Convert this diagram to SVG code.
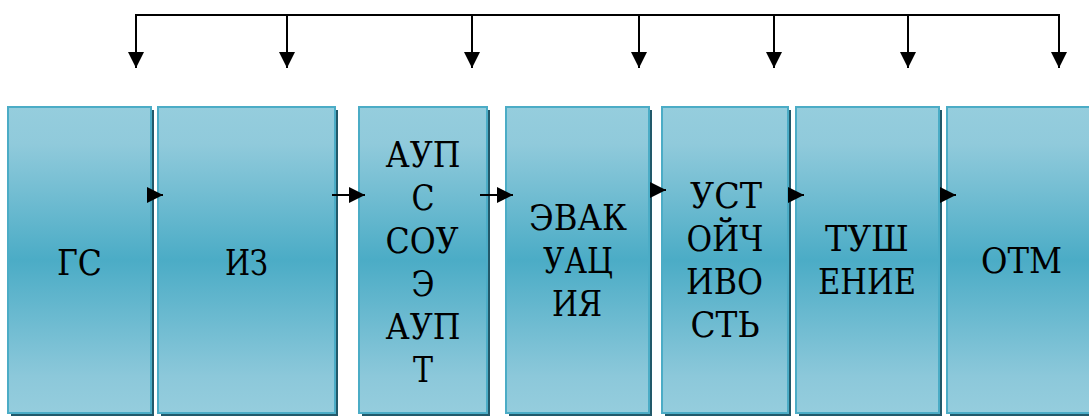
<svg xmlns="http://www.w3.org/2000/svg" width="1089" height="416" viewBox="0 0 1089 416">
<style>
.box{fill:url(#g);stroke:#4BACC6;stroke-width:2}
.sh{fill:#22596A}
.t{font-family:"DejaVu Serif","Liberation Serif",serif;font-size:36px;fill:#000;text-anchor:middle}
.c{fill:none;stroke:#000;stroke-width:2}
</style>
<defs>
<linearGradient id="g" x1="0" y1="0" x2="0" y2="1">
<stop offset="0" stop-color="#95CDDD"/>
<stop offset="0.12" stop-color="#90CADB"/>
<stop offset="0.5" stop-color="#4BACC6"/>
<stop offset="0.88" stop-color="#8CC8DA"/>
<stop offset="1" stop-color="#95CDDD"/>
</linearGradient>
<marker id="ah" markerUnits="userSpaceOnUse" markerWidth="16" markerHeight="16" viewBox="0 0 16 16" refX="16" refY="8" orient="auto">
<path d="M0,0 L16,8 L0,16 Z" fill="#000"/>
</marker>
</defs>
<g id="n1"><rect class="sh" x="11" y="110" width="143" height="306"/><rect class="box" x="8" y="107" width="143" height="306"/><text class="t" x="79.5" y="275" textLength="45" lengthAdjust="spacingAndGlyphs">ГС</text></g>
<g id="n2"><rect class="sh" x="161" y="110" width="177" height="306"/><rect class="box" x="158" y="107" width="177" height="306"/><text class="t" x="246.5" y="275" textLength="43" lengthAdjust="spacingAndGlyphs">ИЗ</text></g>
<g id="n3"><rect class="sh" x="362" y="110" width="128" height="306"/><rect class="box" x="359" y="107" width="128" height="306"/>
<text class="t" x="423" y="167" textLength="75" lengthAdjust="spacingAndGlyphs">АУП</text>
<text class="t" x="423" y="210" textLength="23" lengthAdjust="spacingAndGlyphs">С</text>
<text class="t" x="422" y="253" textLength="73" lengthAdjust="spacingAndGlyphs">СОУ</text>
<text class="t" x="423" y="296" textLength="23" lengthAdjust="spacingAndGlyphs">Э</text>
<text class="t" x="423" y="339" textLength="75" lengthAdjust="spacingAndGlyphs">АУП</text>
<text class="t" x="423" y="382" textLength="20" lengthAdjust="spacingAndGlyphs">Т</text></g>
<g id="n4"><rect class="sh" x="509" y="110" width="143" height="306"/><rect class="box" x="506" y="107" width="143" height="306"/>
<text class="t" x="578" y="230" textLength="98" lengthAdjust="spacingAndGlyphs">ЭВАК</text>
<text class="t" x="578" y="273" textLength="70" lengthAdjust="spacingAndGlyphs">УАЦ</text>
<text class="t" x="577" y="316" textLength="50" lengthAdjust="spacingAndGlyphs">ИЯ</text></g>
<g id="n5"><rect class="sh" x="665" y="110" width="126" height="306"/><rect class="box" x="662" y="107" width="126" height="306"/>
<text class="t" x="726" y="208" textLength="72" lengthAdjust="spacingAndGlyphs">УСТ</text>
<text class="t" x="725" y="251" textLength="77" lengthAdjust="spacingAndGlyphs">ОЙЧ</text>
<text class="t" x="724.5" y="294" textLength="77" lengthAdjust="spacingAndGlyphs">ИВО</text>
<text class="t" x="725" y="337" textLength="69" lengthAdjust="spacingAndGlyphs">СТЬ</text></g>
<g id="n6"><rect class="sh" x="799" y="110" width="143" height="306"/><rect class="box" x="796" y="107" width="143" height="306"/>
<text class="t" x="867" y="251" textLength="84" lengthAdjust="spacingAndGlyphs">ТУШ</text>
<text class="t" x="867" y="294" textLength="98" lengthAdjust="spacingAndGlyphs">ЕНИЕ</text></g>
<g id="n7"><rect class="sh" x="950" y="110" width="150" height="306"/><rect class="box" x="947" y="107" width="150" height="306"/>
<text class="t" x="1021.5" y="273" textLength="81" lengthAdjust="spacingAndGlyphs">ОТМ</text></g>
<g id="connectors">
<path class="c" d="M136,15 H1059" stroke-linecap="square"/>
<path class="c" d="M136,15 V68" marker-end="url(#ah)"/>
<path class="c" d="M287,15 V68" marker-end="url(#ah)"/>
<path class="c" d="M472,15 V68" marker-end="url(#ah)"/>
<path class="c" d="M639,15 V68" marker-end="url(#ah)"/>
<path class="c" d="M774,15 V68" marker-end="url(#ah)"/>
<path class="c" d="M908,15 V68" marker-end="url(#ah)"/>
<path class="c" d="M1059,15 V68" marker-end="url(#ah)"/>
<path class="c" d="M148,195 H163" marker-end="url(#ah)"/>
<path class="c" d="M332,195 H365" marker-end="url(#ah)"/>
<path class="c" d="M480,195 H513" marker-end="url(#ah)"/>
<path class="c" d="M650,190 H666" marker-end="url(#ah)"/>
<path class="c" d="M788,195 H804" marker-end="url(#ah)"/>
<path class="c" d="M940,195 H956" marker-end="url(#ah)"/>
</g>
</svg>
